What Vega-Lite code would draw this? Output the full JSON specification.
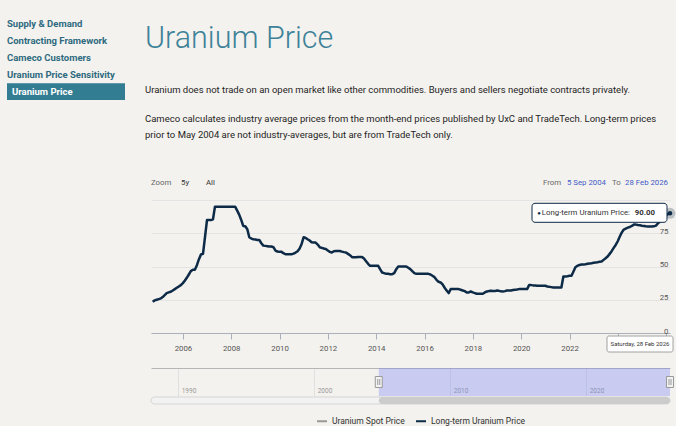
{
  "$schema": "https://vega.github.io/schema/vega-lite/v6.json",
  "background": "#f4f2ee",
  "padding": {"left": 7, "top": 16, "right": 0, "bottom": 0},
  "config": {
    "view": {"stroke": null},
    "font": "Roboto",
    "text": {"font": "Roboto"},
    "axis": {"labelFont": "Roboto", "titleFont": "Roboto"},
    "legend": {"labelFont": "Roboto", "titleFont": "Roboto"},
    "title": {"font": "Roboto", "subtitleFont": "Roboto"}
  },
  "datasets": {
    "longterm": [
      {"date": "2004-09-30", "price": 23.5}, {"date": "2004-10-31", "price": 24.5}, {"date": "2004-11-30", "price": 25}, {"date": "2004-12-31", "price": 25.5},
      {"date": "2005-01-31", "price": 26}, {"date": "2005-02-28", "price": 27}, {"date": "2005-03-31", "price": 28.5}, {"date": "2005-04-30", "price": 30},
      {"date": "2005-05-31", "price": 30.5}, {"date": "2005-06-30", "price": 31}, {"date": "2005-07-31", "price": 32}, {"date": "2005-08-31", "price": 33},
      {"date": "2005-09-30", "price": 34}, {"date": "2005-10-31", "price": 35}, {"date": "2005-11-30", "price": 36}, {"date": "2005-12-31", "price": 37.5},
      {"date": "2006-01-31", "price": 39.5}, {"date": "2006-02-28", "price": 41.5}, {"date": "2006-03-31", "price": 44}, {"date": "2006-04-30", "price": 46.5},
      {"date": "2006-05-31", "price": 47.5}, {"date": "2006-06-30", "price": 47.5}, {"date": "2006-07-31", "price": 51}, {"date": "2006-08-31", "price": 55.5},
      {"date": "2006-09-30", "price": 59}, {"date": "2006-10-31", "price": 59.5}, {"date": "2006-11-30", "price": 72}, {"date": "2006-12-31", "price": 85},
      {"date": "2007-01-31", "price": 85}, {"date": "2007-02-28", "price": 85}, {"date": "2007-03-31", "price": 85.5}, {"date": "2007-04-30", "price": 95},
      {"date": "2007-05-31", "price": 95}, {"date": "2007-06-30", "price": 95}, {"date": "2007-07-31", "price": 95}, {"date": "2007-08-31", "price": 95},
      {"date": "2007-09-30", "price": 95}, {"date": "2007-10-31", "price": 95}, {"date": "2007-11-30", "price": 95}, {"date": "2007-12-31", "price": 95},
      {"date": "2008-01-31", "price": 95}, {"date": "2008-02-29", "price": 95}, {"date": "2008-03-31", "price": 92}, {"date": "2008-04-30", "price": 89},
      {"date": "2008-05-31", "price": 85}, {"date": "2008-06-30", "price": 80.5}, {"date": "2008-07-31", "price": 80.3}, {"date": "2008-08-31", "price": 78},
      {"date": "2008-09-30", "price": 72}, {"date": "2008-10-31", "price": 71}, {"date": "2008-11-30", "price": 70.5}, {"date": "2008-12-31", "price": 70.3},
      {"date": "2009-01-31", "price": 70}, {"date": "2009-02-28", "price": 70}, {"date": "2009-03-31", "price": 67.5}, {"date": "2009-04-30", "price": 65.7},
      {"date": "2009-05-31", "price": 65.5}, {"date": "2009-06-30", "price": 65.3}, {"date": "2009-07-31", "price": 65}, {"date": "2009-08-31", "price": 65},
      {"date": "2009-09-30", "price": 64.5}, {"date": "2009-10-31", "price": 62}, {"date": "2009-11-30", "price": 61.2}, {"date": "2009-12-31", "price": 61},
      {"date": "2010-01-31", "price": 61}, {"date": "2010-02-28", "price": 60}, {"date": "2010-03-31", "price": 59.2}, {"date": "2010-04-30", "price": 59.2},
      {"date": "2010-05-31", "price": 59.2}, {"date": "2010-06-30", "price": 59.2}, {"date": "2010-07-31", "price": 59.7}, {"date": "2010-08-31", "price": 60.5},
      {"date": "2010-09-30", "price": 61.5}, {"date": "2010-10-31", "price": 63.5}, {"date": "2010-11-30", "price": 67}, {"date": "2010-12-31", "price": 72},
      {"date": "2011-01-31", "price": 71.5}, {"date": "2011-02-28", "price": 70.5}, {"date": "2011-03-31", "price": 69.5}, {"date": "2011-04-30", "price": 68.2},
      {"date": "2011-05-31", "price": 68}, {"date": "2011-06-30", "price": 68}, {"date": "2011-07-31", "price": 66.5}, {"date": "2011-08-31", "price": 64.5},
      {"date": "2011-09-30", "price": 64}, {"date": "2011-10-31", "price": 63.5}, {"date": "2011-11-30", "price": 63.2}, {"date": "2011-12-31", "price": 62},
      {"date": "2012-01-31", "price": 61}, {"date": "2012-02-29", "price": 60.5}, {"date": "2012-03-31", "price": 61.5}, {"date": "2012-04-30", "price": 61.7},
      {"date": "2012-05-31", "price": 61.7}, {"date": "2012-06-30", "price": 61.7}, {"date": "2012-07-31", "price": 61.2}, {"date": "2012-08-31", "price": 60.8},
      {"date": "2012-09-30", "price": 60.5}, {"date": "2012-10-31", "price": 59.5}, {"date": "2012-11-30", "price": 58.5}, {"date": "2012-12-31", "price": 57},
      {"date": "2013-01-31", "price": 57}, {"date": "2013-02-28", "price": 57}, {"date": "2013-03-31", "price": 57.2}, {"date": "2013-04-30", "price": 57.2},
      {"date": "2013-05-31", "price": 57.2}, {"date": "2013-06-30", "price": 56}, {"date": "2013-07-31", "price": 54}, {"date": "2013-08-31", "price": 52},
      {"date": "2013-09-30", "price": 50.5}, {"date": "2013-10-31", "price": 50.5}, {"date": "2013-11-30", "price": 50.5}, {"date": "2013-12-31", "price": 50.5},
      {"date": "2014-01-31", "price": 50.5}, {"date": "2014-02-28", "price": 48}, {"date": "2014-03-31", "price": 45.5}, {"date": "2014-04-30", "price": 45},
      {"date": "2014-05-31", "price": 44.5}, {"date": "2014-06-30", "price": 44.5}, {"date": "2014-07-31", "price": 44.2}, {"date": "2014-08-31", "price": 44.2},
      {"date": "2014-09-30", "price": 45}, {"date": "2014-10-31", "price": 48}, {"date": "2014-11-30", "price": 50}, {"date": "2014-12-31", "price": 50},
      {"date": "2015-01-31", "price": 50}, {"date": "2015-02-28", "price": 50}, {"date": "2015-03-31", "price": 50}, {"date": "2015-04-30", "price": 49},
      {"date": "2015-05-31", "price": 48}, {"date": "2015-06-30", "price": 46.5}, {"date": "2015-07-31", "price": 45}, {"date": "2015-08-31", "price": 44.5},
      {"date": "2015-09-30", "price": 44.5}, {"date": "2015-10-31", "price": 44.5}, {"date": "2015-11-30", "price": 44.5}, {"date": "2015-12-31", "price": 44.5},
      {"date": "2016-01-31", "price": 44.5}, {"date": "2016-02-29", "price": 44.5}, {"date": "2016-03-31", "price": 44}, {"date": "2016-04-30", "price": 43},
      {"date": "2016-05-31", "price": 42}, {"date": "2016-06-30", "price": 40}, {"date": "2016-07-31", "price": 38.5}, {"date": "2016-08-31", "price": 38},
      {"date": "2016-09-30", "price": 36.5}, {"date": "2016-10-31", "price": 34}, {"date": "2016-11-30", "price": 32}, {"date": "2016-12-31", "price": 30},
      {"date": "2017-01-31", "price": 33}, {"date": "2017-02-28", "price": 33}, {"date": "2017-03-31", "price": 33}, {"date": "2017-04-30", "price": 33},
      {"date": "2017-05-31", "price": 33}, {"date": "2017-06-30", "price": 32.5}, {"date": "2017-07-31", "price": 32}, {"date": "2017-08-31", "price": 31.5},
      {"date": "2017-09-30", "price": 30.5}, {"date": "2017-10-31", "price": 30.5}, {"date": "2017-11-30", "price": 31.2}, {"date": "2017-12-31", "price": 30.5},
      {"date": "2018-01-31", "price": 30}, {"date": "2018-02-28", "price": 29.5}, {"date": "2018-03-31", "price": 29.5}, {"date": "2018-04-30", "price": 29.5},
      {"date": "2018-05-31", "price": 29.5}, {"date": "2018-06-30", "price": 30.5}, {"date": "2018-07-31", "price": 31.2}, {"date": "2018-08-31", "price": 31.5},
      {"date": "2018-09-30", "price": 31.7}, {"date": "2018-10-31", "price": 31.5}, {"date": "2018-11-30", "price": 31.5}, {"date": "2018-12-31", "price": 32},
      {"date": "2019-01-31", "price": 31.7}, {"date": "2019-02-28", "price": 31.3}, {"date": "2019-03-31", "price": 31.2}, {"date": "2019-04-30", "price": 31.5},
      {"date": "2019-05-31", "price": 32}, {"date": "2019-06-30", "price": 32}, {"date": "2019-07-31", "price": 32}, {"date": "2019-08-31", "price": 32.3},
      {"date": "2019-09-30", "price": 32.5}, {"date": "2019-10-31", "price": 32.7}, {"date": "2019-11-30", "price": 33}, {"date": "2019-12-31", "price": 33},
      {"date": "2020-01-31", "price": 33}, {"date": "2020-02-29", "price": 33}, {"date": "2020-03-31", "price": 33}, {"date": "2020-04-30", "price": 36},
      {"date": "2020-05-31", "price": 36}, {"date": "2020-06-30", "price": 35.8}, {"date": "2020-07-31", "price": 35.7}, {"date": "2020-08-31", "price": 35.5},
      {"date": "2020-09-30", "price": 35.5}, {"date": "2020-10-31", "price": 35.5}, {"date": "2020-11-30", "price": 35.5}, {"date": "2020-12-31", "price": 35.5},
      {"date": "2021-01-31", "price": 35}, {"date": "2021-02-28", "price": 34.7}, {"date": "2021-03-31", "price": 34.5}, {"date": "2021-04-30", "price": 34.2},
      {"date": "2021-05-31", "price": 34.2}, {"date": "2021-06-30", "price": 34.2}, {"date": "2021-07-31", "price": 34.2}, {"date": "2021-08-31", "price": 34.2},
      {"date": "2021-09-30", "price": 42.5}, {"date": "2021-10-31", "price": 42.5}, {"date": "2021-11-30", "price": 42.7}, {"date": "2021-12-31", "price": 43},
      {"date": "2022-01-31", "price": 43}, {"date": "2022-02-28", "price": 46}, {"date": "2022-03-31", "price": 49.5}, {"date": "2022-04-30", "price": 50.5},
      {"date": "2022-05-31", "price": 51.2}, {"date": "2022-06-30", "price": 51.5}, {"date": "2022-07-31", "price": 51.5}, {"date": "2022-08-31", "price": 51.7},
      {"date": "2022-09-30", "price": 52}, {"date": "2022-10-31", "price": 52.3}, {"date": "2022-11-30", "price": 52.5}, {"date": "2022-12-31", "price": 52.8},
      {"date": "2023-01-31", "price": 53}, {"date": "2023-02-28", "price": 53.2}, {"date": "2023-03-31", "price": 53.5}, {"date": "2023-04-30", "price": 53.7},
      {"date": "2023-05-31", "price": 55}, {"date": "2023-06-30", "price": 56.2}, {"date": "2023-07-31", "price": 57.5}, {"date": "2023-08-31", "price": 59.5},
      {"date": "2023-09-30", "price": 61.5}, {"date": "2023-10-31", "price": 64}, {"date": "2023-11-30", "price": 66.2}, {"date": "2023-12-31", "price": 69},
      {"date": "2024-01-31", "price": 72.5}, {"date": "2024-02-29", "price": 75.5}, {"date": "2024-03-31", "price": 77.8}, {"date": "2024-04-30", "price": 78.5},
      {"date": "2024-05-31", "price": 79.2}, {"date": "2024-06-30", "price": 79.7}, {"date": "2024-07-31", "price": 80.5}, {"date": "2024-08-31", "price": 81.5},
      {"date": "2024-09-30", "price": 81.5}, {"date": "2024-10-31", "price": 81.2}, {"date": "2024-11-30", "price": 81}, {"date": "2024-12-31", "price": 80.7},
      {"date": "2025-01-31", "price": 80.5}, {"date": "2025-02-28", "price": 80.2}, {"date": "2025-03-31", "price": 80}, {"date": "2025-04-30", "price": 80},
      {"date": "2025-05-31", "price": 80}, {"date": "2025-06-30", "price": 80.2}, {"date": "2025-07-31", "price": 80.7}, {"date": "2025-08-31", "price": 82.5},
      {"date": "2025-09-30", "price": 84}, {"date": "2025-10-31", "price": 85.5}, {"date": "2025-11-30", "price": 87.5}, {"date": "2025-12-31", "price": 88.5},
      {"date": "2026-01-31", "price": 89.5}, {"date": "2026-02-28", "price": 90}
    ]
  },
  "columns": 2,
  "align": "none",
  "spacing": 20,
  "resolve": {"scale": {"color": "independent"}},
  "concat": [
    {
      "width": 118,
      "height": 84,
      "data": {"values": [
        {"page": "Supply & Demand", "current": false},
        {"page": "Contracting Framework", "current": false},
        {"page": "Cameco Customers", "current": false},
        {"page": "Uranium Price Sensitivity", "current": false},
        {"page": "Uranium Price", "current": true}
      ]},
      "encoding": {
        "y": {"field": "page", "type": "nominal", "axis": null,
          "scale": {"domain": ["Supply & Demand", "Contracting Framework", "Cameco Customers", "Uranium Price Sensitivity", "Uranium Price"], "paddingInner": 0, "paddingOuter": 0}}
      },
      "layer": [
        {"transform": [{"filter": "datum.current"}], "mark": {"type": "rect", "color": "#337d92"}},
        {"transform": [{"filter": "!datum.current"}], "mark": {"type": "text", "align": "left", "baseline": "middle", "x": 0, "fontSize": 9.5, "fontWeight": "bold", "color": "#2d6a7f"}, "encoding": {"text": {"field": "page"}}},
        {"transform": [{"filter": "datum.current"}], "mark": {"type": "text", "align": "left", "baseline": "middle", "x": 5, "fontSize": 9.5, "fontWeight": "bold", "color": "#ffffff"}, "encoding": {"text": {"field": "page"}}}
      ]
    },
    {
      "spacing": 37,
      "resolve": {"scale": {"color": "independent"}},
      "vconcat": [
        {
          "width": 519,
          "height": 126,
          "data": {"values": [{}]},
          "layer": [
            {"mark": {"type": "text", "text": "Uranium Price", "align": "left", "baseline": "alphabetic", "x": -6, "y": 32, "fontSize": 30.5, "fontWeight": 300, "color": "#3d8298"}, "encoding": {}},
            {"mark": {"type": "text", "text": "Uranium does not trade on an open market like other commodities. Buyers and sellers negotiate contracts privately.",
              "align": "left", "baseline": "alphabetic", "x": -6, "y": 77.3, "fontSize": 9.5, "color": "#1e1e1e"}, "encoding": {}},
            {"mark": {"type": "text", "text": ["Cameco calculates industry average prices from the month-end prices published by UxC and TradeTech. Long-term prices", "prior to May 2004 are not industry-averages, but are from TradeTech only."],
              "lineHeight": 16, "align": "left", "baseline": "alphabetic", "x": -6, "y": 106.3, "fontSize": 9.5, "color": "#1e1e1e"}, "encoding": {}}
          ]
        },
        {
          "spacing": 15,
          "resolve": {"scale": {"color": "independent"}},
          "vconcat": [
            {
              "width": 519,
              "height": 133,
              "layer": [
                {
                  "data": {"name": "longterm"},
                  "mark": {"type": "line", "color": "#0d2a47", "strokeWidth": 2.5, "strokeJoin": "round"},
                  "encoding": {
                    "x": {
                      "field": "date", "type": "temporal",
                      "scale": {"domain": [{"year": 2004, "month": 9, "date": 5}, {"year": 2026, "month": 2, "date": 28}]},
                      "axis": {"title": null, "format": "%Y", "tickCount": {"interval": "year", "step": 2}, "grid": false,
                        "labelExpr": "year(datum.value) >= 2024 ? '' : datum.label",
                        "domainColor": "#aab0b8", "tickColor": "#aab0b8", "tickSize": 6, "labelFontSize": 7.8, "labelColor": "#555555",
                        "labelPadding": 5, "labelFlush": false, "labelOverlap": false}
                    },
                    "y": {
                      "field": "price", "type": "quantitative",
                      "scale": {"domain": [0, 100], "nice": false},
                      "axis": {"orient": "right", "title": null, "values": [0, 25, 50, 75, 100], "tickCount": 5,
                        "labelExpr": "datum.value >= 100 ? '' : datum.label", "labelOverlap": false, "labelSeparation": 0, "labelBound": false,
                        "domain": false, "ticks": false, "tickSize": 0, "grid": true, "gridColor": "#e4e4e4",
                        "labelAlign": "right", "labelBaseline": "alphabetic", "labelPadding": -2, "labelFontSize": 7.8, "labelColor": "#555555"}
                    }
                  }
                },
                {
                  "data": {"name": "longterm"},
                  "transform": [
                    {"joinaggregate": [{"op": "max", "field": "date", "as": "last"}]},
                    {"filter": "datum.date >= datum.last"}
                  ],
                  "encoding": {
                    "x": {"field": "date", "type": "temporal"},
                    "y": {"field": "price", "type": "quantitative"}
                  },
                  "layer": [
                    {"mark": {"type": "point", "filled": true, "size": 120, "color": "#0d2a47", "opacity": 0.25}},
                    {"mark": {"type": "point", "filled": true, "size": 20, "color": "#0d2a47", "opacity": 1}},
                    {"mark": {"type": "rect", "fill": "#ffffff", "stroke": "#0d2a47", "strokeWidth": 1, "cornerRadius": 3,
                      "xOffset": -138, "x2Offset": -3, "yOffset": -10, "y2Offset": 9},
                      "encoding": {"x2": {"field": "date"}, "y2": {"field": "price"}}},
                    {"mark": {"type": "text", "text": "●", "align": "center", "baseline": "middle", "dx": -131, "fontSize": 6, "color": "#0d2a47"}},
                    {"mark": {"type": "text", "text": "Long-term Uranium Price:", "align": "right", "baseline": "middle", "dx": -40, "fontSize": 7.8, "color": "#333333"}},
                    {"mark": {"type": "text", "align": "right", "baseline": "middle", "dx": -15, "fontSize": 7.8, "fontWeight": "bold", "color": "#333333"},
                      "encoding": {"text": {"field": "price", "type": "quantitative", "format": ".2f"}}},
                    {"mark": {"type": "rect", "fill": "#ffffff", "stroke": "#a0a0a0", "strokeWidth": 1, "cornerRadius": 2,
                      "xOffset": -63, "x2Offset": 3, "yOffset": 3, "y2Offset": 19},
                      "encoding": {"y": {"datum": 0}, "x2": {"field": "date"}, "y2": {"datum": 0}}},
                    {"mark": {"type": "text", "align": "center", "baseline": "middle", "dx": -30, "dy": 11, "fontSize": 6, "color": "#333333"},
                      "encoding": {"y": {"datum": 0}, "text": {"field": "date", "type": "temporal", "format": "%A, %-d %b %Y"}}}
                  ]
                },
                {"data": {"values": [{}]}, "mark": {"type": "text", "text": "Zoom", "align": "left", "baseline": "middle", "x": 0, "y": -17, "fontSize": 7.8, "color": "#666666"}, "encoding": {}},
                {"data": {"values": [{}]}, "mark": {"type": "text", "text": "5y", "align": "left", "baseline": "middle", "x": 30, "y": -17, "fontSize": 7.8, "color": "#333333"}, "encoding": {}},
                {"data": {"values": [{}]}, "mark": {"type": "text", "text": "All", "align": "left", "baseline": "middle", "x": 55, "y": -17, "fontSize": 7.8, "color": "#333333"}, "encoding": {}},
                {"data": {"values": [{}]}, "mark": {"type": "text", "text": "From", "align": "left", "baseline": "middle", "x": 392, "y": -17, "fontSize": 7.8, "color": "#666666"}, "encoding": {}},
                {"data": {"values": [{}]}, "mark": {"type": "text", "text": "5 Sep 2004", "align": "left", "baseline": "middle", "x": 416, "y": -17, "fontSize": 7.8, "color": "#3f5bc6"}, "encoding": {}},
                {"data": {"values": [{}]}, "mark": {"type": "text", "text": "To", "align": "left", "baseline": "middle", "x": 461, "y": -17, "fontSize": 7.8, "color": "#666666"}, "encoding": {}},
                {"data": {"values": [{}]}, "mark": {"type": "text", "text": "28 Feb 2026", "align": "right", "baseline": "middle", "x": 517, "y": -17, "fontSize": 7.8, "color": "#3f5bc6"}, "encoding": {}}
              ]
            },
            {
              "spacing": 0,
              "resolve": {"scale": {"color": "independent"}},
              "vconcat": [
                {
                  "width": 519,
                  "height": 28,
                  "data": {"name": "longterm"},
                  "encoding": {
                    "x": {
                      "aggregate": "min", "field": "date", "type": "temporal",
                      "scale": {"domain": [{"year": 1988, "month": 1, "date": 1}, {"year": 2026, "month": 2, "date": 28}]},
                      "axis": {"orient": "top", "title": null, "format": "%Y", "tickCount": {"interval": "year", "step": 10},
                        "grid": true, "gridColor": "#e0e0e0", "domain": true, "domainColor": "#b5b5b5", "ticks": false, "tickSize": 0,
                        "labelAlign": "left", "labelBaseline": "bottom", "labelPadding": -25, "labelOffset": 3,
                        "labelFontSize": 6.5, "labelColor": "#999999", "labelFlush": false, "labelOverlap": false}
                    }
                  },
                  "layer": [
                    {"mark": {"type": "rect", "color": "#7988f4", "opacity": 0.35}, "encoding": {"x2": {"aggregate": "max", "field": "date"}}},
                    {"mark": {"type": "point", "shape": "M-0.35,-0.55H0.35V0.55H-0.35Z M-0.1,-0.3V0.3 M0.1,-0.3V0.3", "size": 400, "filled": true, "fill": "#f2f2f2", "stroke": "#999999", "strokeWidth": 1, "opacity": 1}},
                    {"mark": {"type": "point", "shape": "M-0.35,-0.55H0.35V0.55H-0.35Z M-0.1,-0.3V0.3 M0.1,-0.3V0.3", "size": 400, "filled": true, "fill": "#f2f2f2", "stroke": "#999999", "strokeWidth": 1, "opacity": 1},
                      "encoding": {"x": {"aggregate": "max", "field": "date", "type": "temporal"}}}
                  ]
                },
                {
                  "width": 519,
                  "height": 7,
                  "layer": [
                    {
                      "data": {"values": [{}]},
                      "mark": {"type": "rect", "fill": "#f2f2f2", "stroke": "#d5d5d5", "strokeWidth": 1, "cornerRadius": 3.5},
                      "encoding": {
                        "x": {"datum": {"year": 1988, "month": 1, "date": 1}, "type": "temporal",
                          "scale": {"domain": [{"year": 1988, "month": 1, "date": 1}, {"year": 2026, "month": 2, "date": 28}]}, "axis": null},
                        "x2": {"datum": {"year": 2026, "month": 2, "date": 28}}
                      }
                    },
                    {
                      "data": {"name": "longterm"},
                      "mark": {"type": "rect", "fill": "#cccccc", "cornerRadius": 3.5},
                      "encoding": {
                        "x": {"aggregate": "min", "field": "date", "type": "temporal"},
                        "x2": {"aggregate": "max", "field": "date"}
                      }
                    },
                    {
                      "data": {"name": "longterm"},
                      "transform": [{"filter": "false"}],
                      "mark": {"type": "line"},
                      "encoding": {
                        "color": {
                          "datum": "Long-term Uranium Price", "type": "nominal",
                          "scale": {"domain": ["Uranium Spot Price", "Long-term Uranium Price"], "range": ["#999999", "#0d2a47"]},
                          "legend": {"title": null, "orient": "none", "legendX": 165, "legendY": 18, "direction": "horizontal",
                            "symbolType": "stroke", "symbolStrokeWidth": 2, "symbolSize": 100, "labelFontSize": 8.5,
                            "labelColor": "#333333", "columnPadding": 7, "labelOffset": 4,
                            "encoding": {"labels": {"fill": {"signal": "datum.label === 'Uranium Spot Price' ? '#9a9a9a' : '#333333'"}}}}
                        }
                      }
                    }
                  ]
                }
              ]
            }
          ]
        }
      ]
    }
  ]
}
